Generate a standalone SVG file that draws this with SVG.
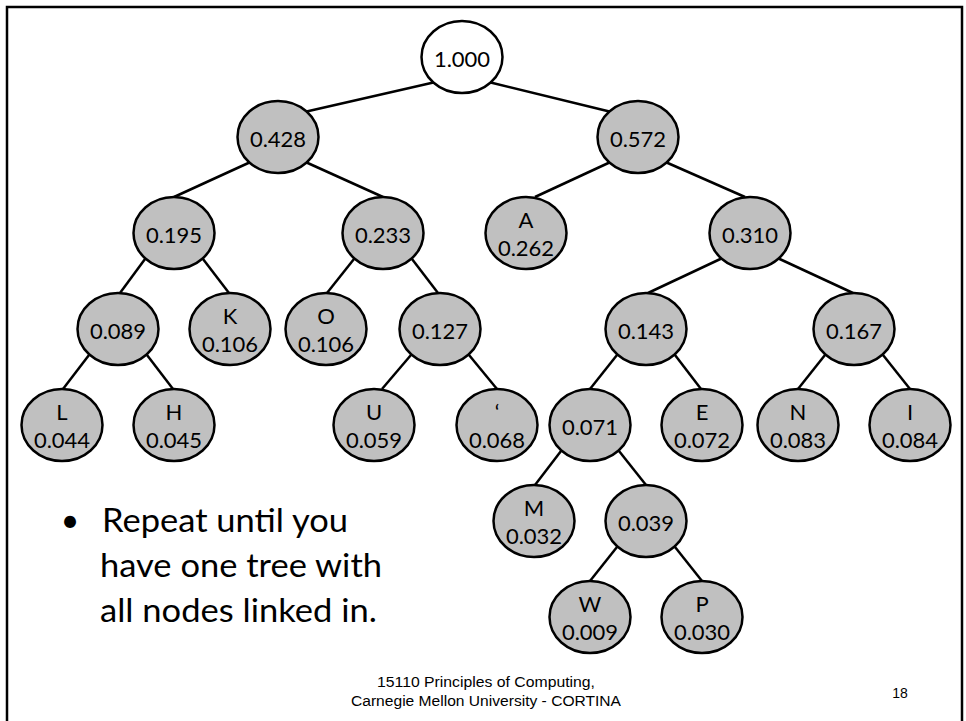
<svg xmlns="http://www.w3.org/2000/svg" width="966" height="721" viewBox="0 0 966 721">
  <style>
    .frame { fill: #ffffff; stroke: #000000; stroke-width: 2.5; }
    .edge { stroke: #000000; stroke-width: 2.5; fill: none; }
    .node ellipse { fill: #c0c0c0; stroke: #000000; stroke-width: 2.5; }
    .root ellipse { fill: #ffffff; }
    .node text { font-family: Lato, "Open Sans", sans-serif; font-size: 22px; fill: #000000; text-anchor: middle; }
    .bullet { font-family: Lato, "Open Sans", sans-serif; font-size: 32px; fill: #000000; }
    .footer { font-family: "Liberation Sans Narrow", "Liberation Sans", Arial, sans-serif; font-size: 14px; fill: #000000; }
  </style>

  <!-- slide frame -->
  <rect class="frame" x="7" y="7" width="955" height="730"/>

  <!-- tree edges -->
  <g id="edges">
    <line class="edge" x1="433.4" y1="82.5" x2="306.6" y2="111.5"/>
    <line class="edge" x1="490.6" y1="82.5" x2="609.4" y2="111.5"/>
    <line class="edge" x1="249.4" y1="162.5" x2="174" y2="197"/>
    <line class="edge" x1="306.6" y1="162.5" x2="383" y2="197"/>
    <line class="edge" x1="609.4" y1="162.5" x2="535" y2="197"/>
    <line class="edge" x1="666.6" y1="162.5" x2="745" y2="197"/>
    <line class="edge" x1="145.4" y1="258.5" x2="120" y2="293"/>
    <line class="edge" x1="202.6" y1="258.5" x2="229" y2="293"/>
    <line class="edge" x1="354.4" y1="258.5" x2="327" y2="293"/>
    <line class="edge" x1="411.6" y1="258.5" x2="438" y2="293"/>
    <line class="edge" x1="721.4" y1="258.5" x2="648" y2="293"/>
    <line class="edge" x1="778.6" y1="258.5" x2="853" y2="293"/>
    <line class="edge" x1="89.4" y1="354.5" x2="63" y2="389"/>
    <line class="edge" x1="146.6" y1="354.5" x2="173" y2="389"/>
    <line class="edge" x1="411.4" y1="354.5" x2="382" y2="389"/>
    <line class="edge" x1="468.6" y1="354.5" x2="497" y2="389"/>
    <line class="edge" x1="617.4" y1="354.5" x2="590" y2="389"/>
    <line class="edge" x1="674.6" y1="354.5" x2="701" y2="389"/>
    <line class="edge" x1="825.4" y1="354.5" x2="798" y2="389"/>
    <line class="edge" x1="882.6" y1="354.5" x2="910" y2="389"/>
    <line class="edge" x1="561.4" y1="450.5" x2="535" y2="485"/>
    <line class="edge" x1="618.6" y1="450.5" x2="646" y2="485"/>
    <line class="edge" x1="617.4" y1="546.5" x2="590" y2="581"/>
    <line class="edge" x1="674.6" y1="546.5" x2="702" y2="581"/>
  </g>

  <!-- internal nodes -->
  <g id="n1000" class="node root"><ellipse cx="462" cy="57" rx="40.5" ry="36"/><text x="462" y="67">1.000</text></g>
  <g id="n0428" class="node"><ellipse cx="278" cy="137" rx="40.5" ry="36"/><text x="278" y="147">0.428</text></g>
  <g id="n0572" class="node"><ellipse cx="638" cy="137" rx="40.5" ry="36"/><text x="638" y="147">0.572</text></g>
  <g id="n0195" class="node"><ellipse cx="174" cy="233" rx="40.5" ry="36"/><text x="174" y="243">0.195</text></g>
  <g id="n0233" class="node"><ellipse cx="383" cy="233" rx="40.5" ry="36"/><text x="383" y="243">0.233</text></g>
  <g id="n0310" class="node"><ellipse cx="750" cy="233" rx="40.5" ry="36"/><text x="750" y="243">0.310</text></g>
  <g id="n0089" class="node"><ellipse cx="118" cy="329" rx="40.5" ry="36"/><text x="118" y="339">0.089</text></g>
  <g id="n0127" class="node"><ellipse cx="440" cy="329" rx="40.5" ry="36"/><text x="440" y="339">0.127</text></g>
  <g id="n0143" class="node"><ellipse cx="646" cy="329" rx="40.5" ry="36"/><text x="646" y="339">0.143</text></g>
  <g id="n0167" class="node"><ellipse cx="854" cy="329" rx="40.5" ry="36"/><text x="854" y="339">0.167</text></g>
  <g id="n0071" class="node"><ellipse cx="590" cy="425" rx="40.5" ry="36"/><text x="590" y="435">0.071</text></g>
  <g id="n0039" class="node"><ellipse cx="646" cy="521" rx="40.5" ry="36"/><text x="646" y="531">0.039</text></g>

  <!-- leaf nodes: letter and frequency -->
  <g id="leafA" class="node"><ellipse cx="526" cy="233" rx="40.5" ry="36"/><text x="526" y="228">A</text><text x="526" y="256">0.262</text></g>
  <g id="leafK" class="node"><ellipse cx="230" cy="329" rx="40.5" ry="36"/><text x="230" y="324">K</text><text x="230" y="352">0.106</text></g>
  <g id="leafO" class="node"><ellipse cx="326" cy="329" rx="40.5" ry="36"/><text x="326" y="324">O</text><text x="326" y="352">0.106</text></g>
  <g id="leafL" class="node"><ellipse cx="62" cy="425" rx="40.5" ry="36"/><text x="62" y="420">L</text><text x="62" y="448">0.044</text></g>
  <g id="leafH" class="node"><ellipse cx="174" cy="425" rx="40.5" ry="36"/><text x="174" y="420">H</text><text x="174" y="448">0.045</text></g>
  <g id="leafU" class="node"><ellipse cx="374" cy="425" rx="40.5" ry="36"/><text x="374" y="420">U</text><text x="374" y="448">0.059</text></g>
  <g id="leafQuote" class="node"><ellipse cx="497" cy="425" rx="40.5" ry="36"/><text x="497" y="420">‘</text><text x="497" y="448">0.068</text></g>
  <g id="leafE" class="node"><ellipse cx="702" cy="425" rx="40.5" ry="36"/><text x="702" y="420">E</text><text x="702" y="448">0.072</text></g>
  <g id="leafN" class="node"><ellipse cx="798" cy="425" rx="40.5" ry="36"/><text x="798" y="420">N</text><text x="798" y="448">0.083</text></g>
  <g id="leafI" class="node"><ellipse cx="910" cy="425" rx="40.5" ry="36"/><text x="910" y="420">I</text><text x="910" y="448">0.084</text></g>
  <g id="leafM" class="node"><ellipse cx="534" cy="521" rx="40.5" ry="36"/><text x="534" y="516">M</text><text x="534" y="544">0.032</text></g>
  <g id="leafW" class="node"><ellipse cx="590" cy="617" rx="40.5" ry="36"/><text x="590" y="612">W</text><text x="590" y="640">0.009</text></g>
  <g id="leafP" class="node"><ellipse cx="702" cy="617" rx="40.5" ry="36"/><text x="702" y="612">P</text><text x="702" y="640">0.030</text></g>

  <!-- bullet text -->
  <text class="bullet" x="70" y="532" text-anchor="middle">•</text>
  <text class="bullet" x="102" y="532" textLength="246" lengthAdjust="spacingAndGlyphs">Repeat until you</text>
  <text class="bullet" x="100" y="577" textLength="282" lengthAdjust="spacingAndGlyphs">have one tree with</text>
  <text class="bullet" x="100" y="622" textLength="277" lengthAdjust="spacingAndGlyphs">all nodes linked in.</text>

  <!-- footer -->
  <text class="footer" x="486" y="687" text-anchor="middle" textLength="218" lengthAdjust="spacingAndGlyphs">15110 Principles of Computing,</text>
  <text class="footer" x="486" y="706" text-anchor="middle" textLength="270" lengthAdjust="spacingAndGlyphs">Carnegie Mellon University - CORTINA</text>
  <text class="footer" x="900" y="698" text-anchor="middle">18</text>
</svg>
